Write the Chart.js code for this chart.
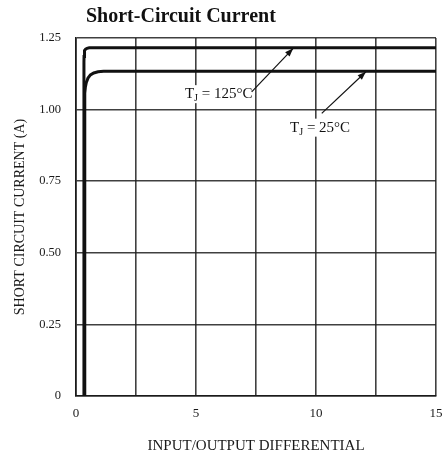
<!DOCTYPE html>
<html><head><meta charset="utf-8">
<script src="https://cdn.jsdelivr.net/npm/chart.js@4"></script>
<style>html,body{margin:0;padding:0;background:#fff}#w{width:445px;height:459px}</style>
</head><body><div id="w"><canvas id="c"></canvas></div>
<script>
const titleText = "Short-Circuit Current";
const xTitle = "INPUT/OUTPUT DIFFERENTIAL";
const yTitle = "SHORT CIRCUIT CURRENT (A)";
const xTickLabels = ["0", "5", "10", "15"];
const yTickLabels = ["0", "0.25", "0.50", "0.75", "1.00", "1.25"];
const x125 = [0.33, 0.331, 0.335, 0.345, 0.365, 0.40, 0.46, 0.55, 0.68, 15];
const y125 = [0, 1.165, 1.185, 1.198, 1.206, 1.211, 1.214, 1.216, 1.216, 1.216];
const x25 = [0.36, 0.361, 0.37, 0.39, 0.43, 0.50, 0.60, 0.74, 0.92, 1.15, 15];
const y25 = [0, 1.03, 1.058, 1.078, 1.095, 1.110, 1.121, 1.128, 1.132, 1.134, 1.134];
const labels = [
  {sub: "J", name: "T", rest: " = 125\u00B0C", x: 4.54, y: 1.04, ax0: 7.32, ay0: 1.062, ax1: 9.05, ay1: 1.214},
  {sub: "J", name: "T", rest: " = 25\u00B0C", x: 8.92, y: 0.923, ax0: 10.24, ay0: 0.987, ax1: 12.08, ay1: 1.132}
];

const toPts = (xs, ys) => xs.map((x, i) => ({x, y: ys[i]}));
const serif = "'Liberation Serif','DejaVu Serif',serif";

const deco = {
  id: 'deco',
  afterDraw(chart) {
    const ctx = chart.ctx, xs = chart.scales.x, ys = chart.scales.y;
    ctx.save();
    ctx.fillStyle = '#111';
    ctx.font = "bold 20px " + serif;
    ctx.textBaseline = 'alphabetic';
    ctx.textAlign = 'left';
    ctx.fillText(titleText, 86, 22);
    labels.forEach(l => {
      const px = xs.getPixelForValue(l.x), py = ys.getPixelForValue(l.y);
      ctx.font = "15px " + serif;
      const wT = ctx.measureText(l.name).width;
      ctx.font = "10px " + serif;
      const wS = ctx.measureText(l.sub).width;
      ctx.font = "15px " + serif;
      const wR = ctx.measureText(l.rest).width;
      ctx.fillStyle = '#fff';
      ctx.fillRect(px - 1, py - 13, wT + wS + wR + 2, 18);
      ctx.fillStyle = '#111';
      ctx.fillText(l.name, px, py);
      ctx.font = "10px " + serif;
      ctx.fillText(l.sub, px + wT, py + 3);
      ctx.font = "15px " + serif;
      ctx.fillText(l.rest, px + wT + wS, py);
      const x0 = xs.getPixelForValue(l.ax0), y0 = ys.getPixelForValue(l.ay0);
      const x1 = xs.getPixelForValue(l.ax1), y1 = ys.getPixelForValue(l.ay1);
      ctx.strokeStyle = '#111';
      ctx.lineWidth = 1.2;
      ctx.beginPath(); ctx.moveTo(x0, y0); ctx.lineTo(x1, y1); ctx.stroke();
      const a = Math.atan2(y1 - y0, x1 - x0), L = 9, W = 0.35;
      ctx.beginPath();
      ctx.moveTo(x1, y1);
      ctx.lineTo(x1 - L * Math.cos(a - W), y1 - L * Math.sin(a - W));
      ctx.lineTo(x1 - L * Math.cos(a + W), y1 - L * Math.sin(a + W));
      ctx.closePath(); ctx.fill();
    });
    ctx.restore();
  }
};

new Chart(document.getElementById('c'), {
  type: 'scatter',
  data: {
    datasets: [
      {label: 'Tj=125', data: toPts(x125, y125), showLine: true, borderColor: '#111', borderWidth: 3, pointRadius: 0, tension: 0, fill: false},
      {label: 'Tj=25', data: toPts(x25, y25), showLine: true, borderColor: '#111', borderWidth: 3, pointRadius: 0, tension: 0, fill: false}
    ]
  },
  options: {
    responsive: true, maintainAspectRatio: false, animation: false,
    layout: {padding: {left: 0, right: 9, top: 38, bottom: 0}},
    plugins: {legend: {display: false}, tooltip: {enabled: false}, title: {display: false}},
    scales: {
      x: {
        type: 'linear', min: 0, max: 15,
        ticks: {stepSize: 2.5, color: '#1a1a1a', font: {family: serif, size: 13}, padding: 10, maxRotation: 0,
          callback: v => { const i = xTickLabels.indexOf(String(v)); return i >= 0 ? xTickLabels[i] : ''; }},
        grid: {color: 'rgba(30,30,30,0.85)', lineWidth: 1.6, drawTicks: false},
        border: {color: '#1a1a1a', width: 1.6},
        title: {display: true, text: xTitle, color: '#1a1a1a', font: {family: serif, size: 15}, padding: {top: 10}},
        afterFit: s => { s.height = 63; s.paddingLeft = 0; s.paddingRight = 0; }
      },
      y: {
        type: 'linear', min: 0, max: 1.25,
        ticks: {stepSize: 0.25, color: '#1a1a1a', font: {family: serif, size: 12.5}, padding: 15,
          callback: (v) => yTickLabels[Math.round(v / 0.25)] ?? ''},
        grid: {color: 'rgba(30,30,30,0.85)', lineWidth: 1.6, drawTicks: false},
        border: {color: '#1a1a1a', width: 1.6},
        title: {display: true, text: yTitle, color: '#1a1a1a', font: {family: serif, size: 14}, padding: {top: 12, bottom: 0}},
        afterFit: s => { s.width = 76; s.paddingTop = 0; s.paddingBottom = 0; }
      }
    }
  },
  plugins: [deco]
});
</script>
</body></html>
